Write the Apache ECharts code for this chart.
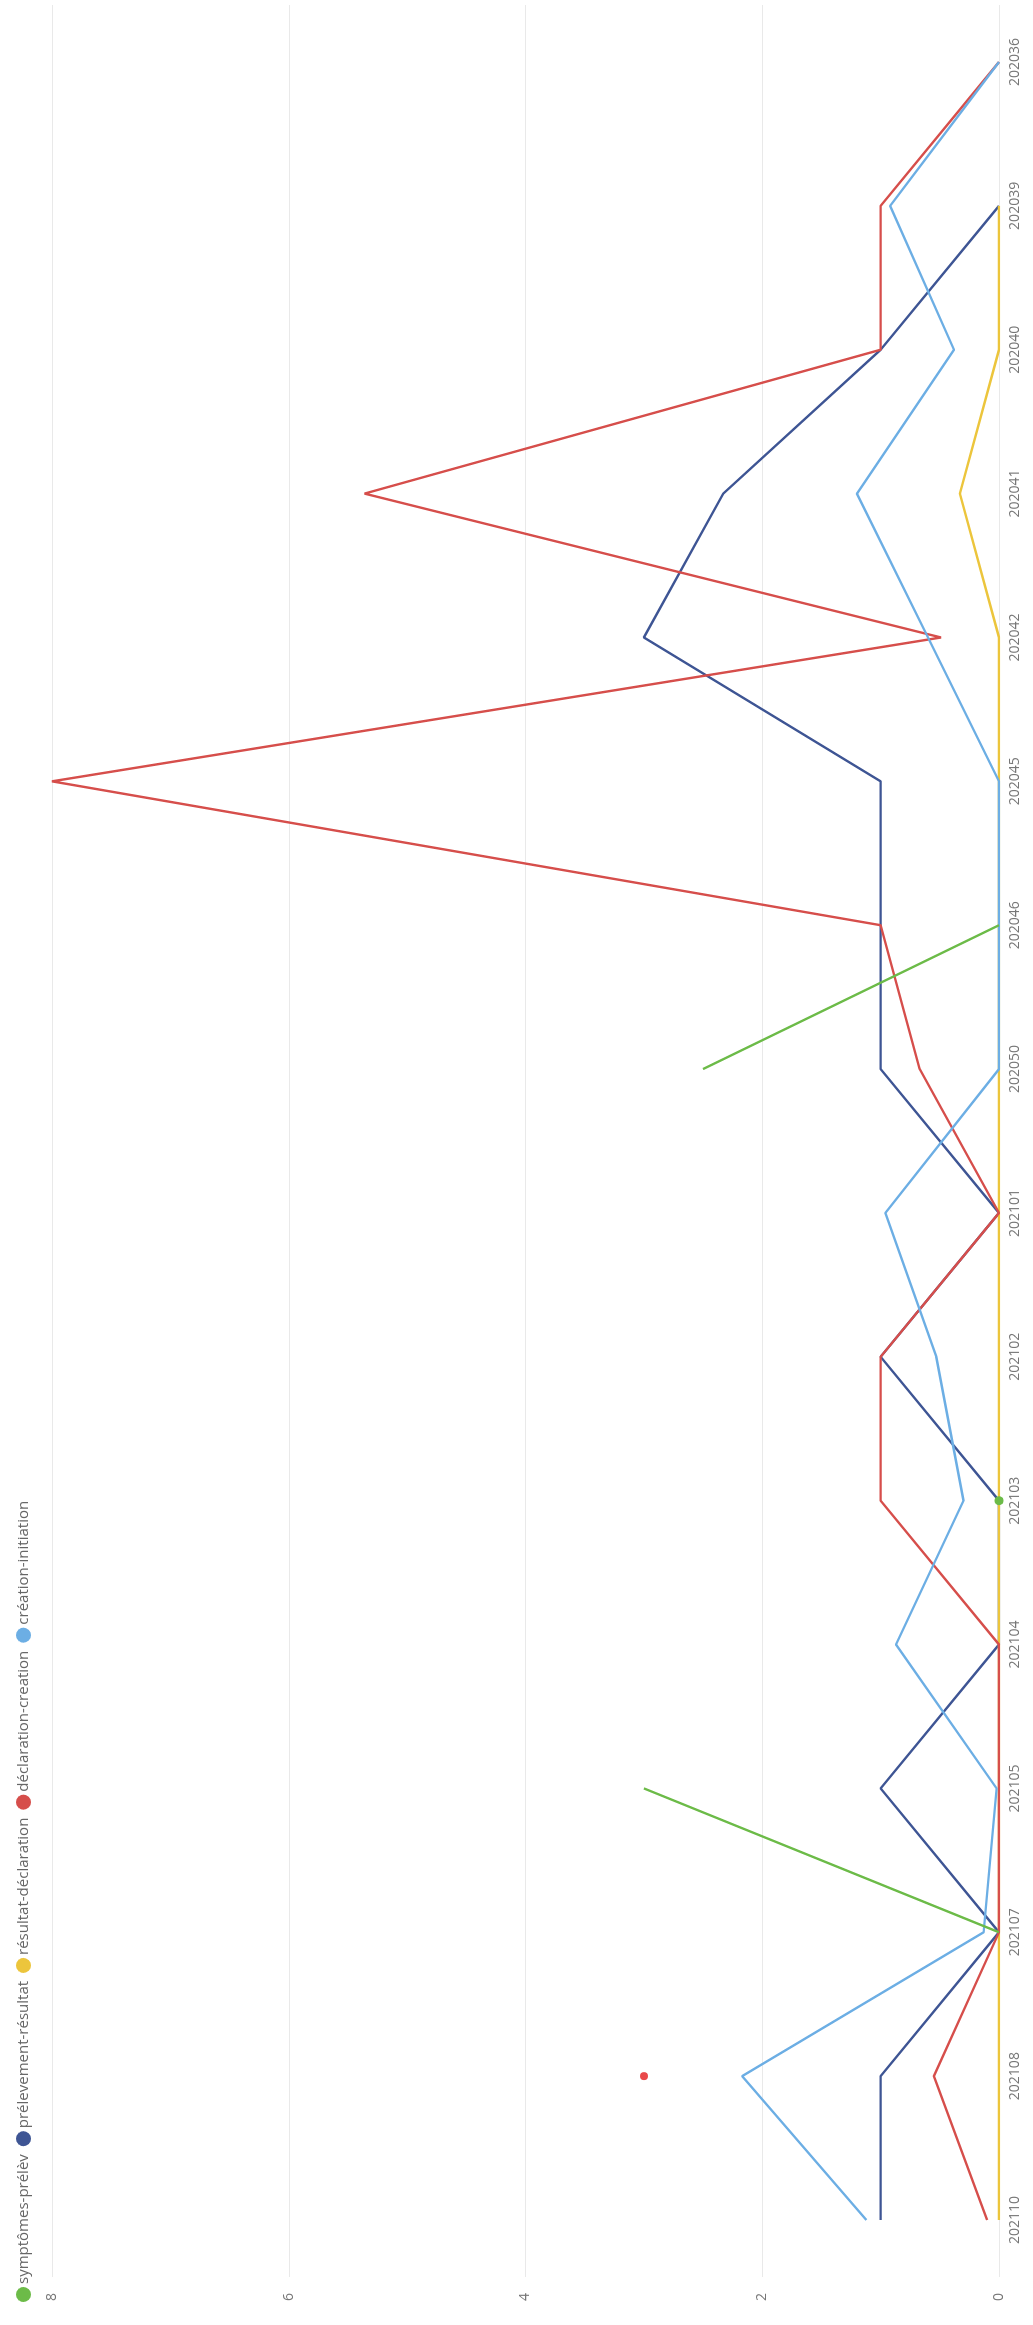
<!DOCTYPE html>
<html>
<head>
<meta charset="utf-8">
<script src="https://cdn.jsdelivr.net/npm/echarts@6/dist/echarts.min.js"></script>
<style>
  html, body { margin: 0; padding: 0; background: #ffffff; overflow: hidden; width: 1033px; height: 2325px; }
  #chart { position: absolute; left: 0; top: 0; width: 2325px; height: 1033px;
           transform-origin: 0 0; transform: translate(0px, 2325px) rotate(-90deg); }
</style>
</head>
<body>
<div id="chart"></div>
<script>
// Categories (week codes), in plotting order
const categories = ['202110','202108','202107','202105','202104','202103','202102','202101',
                    '202050','202046','202045','202042','202041','202040','202039','202036'];

const seriesNames = ['symptômes-prélèv','prélevement-résultat','résultat-déclaration','déclaration-creation','création-initiation'];

const symptomesPrelev      = [null, null, 0, 3, null, 0, null, null, 2.5, 0, null, null, null, null, null, null];
const prelevementResultat  = [1, 1, 0, 1, 0, 0, 1, 0, 1, 1, 1, 3, 2.33, 1, 0, null];
const resultatDeclaration  = [0, 0, 0, 0, 0, 0, 0, 0, 0, 0, 0, 0, 0.33, 0, 0, null];
const declarationCreation  = [0.1, 0.55, 0, 0, 0, 1, 1, 0, 0.67, 1, 8, 0.49, 5.36, 1, 1, 0];
const creationInitiation   = [1.12, 2.17, 0.13, 0.02, 0.87, 0.3, 0.53, 0.96, 0, 0, 0, 0.6, 1.2, 0.38, 0.92, 0];
const declarationPoints    = [null, 3, null, null, null, null, null, null, null, null, null, null, null, null, null, null];

const valueTicks = [0, 2, 4, 6, 8];

const colors = ['#6cbb48', '#3e5594', '#ecc53c', '#d64e4b', '#6caee4'];
const FONT = "'Segoe UI', 'Open Sans', 'Noto Sans', sans-serif";

function isolatedSize(arr) {
  return function (val, params) {
    const i = params.dataIndex;
    const prev = i > 0 ? arr[i - 1] : null;
    const next = i < arr.length - 1 ? arr[i + 1] : null;
    return (arr[i] != null && prev == null && next == null) ? 9 : 0;
  };
}

const allData = [symptomesPrelev, prelevementResultat, resultatDeclaration, declarationCreation, creationInitiation];

const lineSeries = allData.map((arr, k) => ({
  name: seriesNames[k],
  type: 'line',
  xAxisIndex: 1,
  yAxisIndex: 1,
  data: arr,
  symbol: 'circle',
  showSymbol: true,
  symbolSize: isolatedSize(arr),
  connectNulls: false,
  lineStyle: { width: 2.4, color: colors[k] },
  itemStyle: { color: colors[k] },
  z: 2
}));

lineSeries.push({
  name: seriesNames[3],
  type: 'scatter',
  xAxisIndex: 1,
  yAxisIndex: 1,
  data: declarationPoints,
  symbolSize: 8,
  itemStyle: { color: '#e31b1d' },
  z: 4
});

const chart = echarts.init(document.getElementById('chart'), null, { width: 2325, height: 1033, renderer: 'canvas' });

chart.setOption({
  animation: false,
  backgroundColor: '#ffffff',
  color: colors,
  textStyle: { fontFamily: FONT },
  legend: {
    data: seriesNames,
    left: 18,
    top: 11,
    icon: 'circle',
    itemWidth: 15,
    itemHeight: 15,
    itemGap: 8,
    textStyle: { fontFamily: FONT, fontSize: 15, color: '#666666', padding: [0, 0, 0, -2] }
  },
  grid: [
    { left: 48, right: 5, top: 52, bottom: 34, containLabel: false },
    { left: 105, right: 62, top: 52, bottom: 34, containLabel: false }
  ],
  xAxis: [
    { gridIndex: 0, type: 'value', show: false, min: 0, max: 1 },
    {
      gridIndex: 1, type: 'category', data: categories, boundaryGap: false,
      axisLine: { show: false }, axisTick: { show: false },
      axisLabel: { interval: 0, margin: 9, fontFamily: FONT, fontSize: 14, color: '#777777' },
      splitLine: { show: false }
    }
  ],
  yAxis: [
    {
      gridIndex: 0, type: 'value', min: valueTicks[0], max: valueTicks[valueTicks.length - 1], interval: 2,
      axisLine: { show: false }, axisTick: { show: false },
      axisLabel: { margin: 16, fontFamily: FONT, fontSize: 14, color: '#777777' },
      splitLine: { show: true, lineStyle: { color: '#e9e9e9', width: 1 } }
    },
    {
      gridIndex: 1, type: 'value', min: valueTicks[0], max: valueTicks[valueTicks.length - 1], interval: 2,
      show: false, splitLine: { show: false }
    }
  ],
  series: lineSeries.map((s, k) => (k === 0 ? Object.assign({}, s, { z: 3 }) : s))
});
</script>
</body>
</html>
